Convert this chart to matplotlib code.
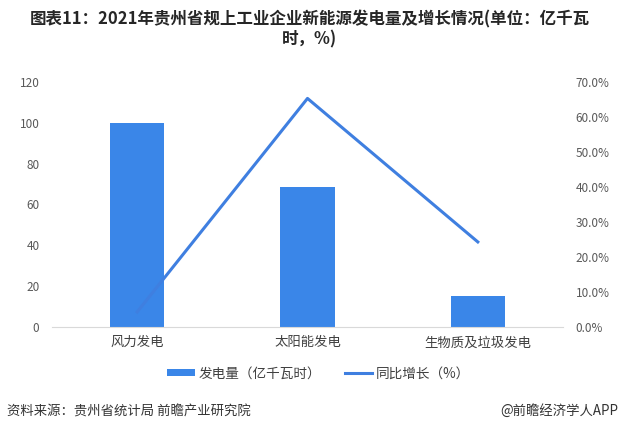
import matplotlib.pyplot as plt
from matplotlib.ticker import FuncFormatter

plt.rcParams['font.family'] = ['Noto Sans CJK SC', 'DejaVu Sans']

categories = ['风力发电', '太阳能发电', '生物质及垃圾发电']
power = [100, 68.6, 15.2]          # 发电量（亿千瓦时）
growth = [4.3, 65.3, 24.3]         # 同比增长（%）

bar_color = '#3a86e8'
line_color = '#3f7fe0'
tick_color = '#595959'

fig = plt.figure(figsize=(6.19, 4.36), dpi=100)
ax = fig.add_axes([0.084, 0.25, 0.8255, 0.562])
ax2 = ax.twinx()

x = list(range(len(categories)))
b = ax.bar(x, power, width=0.32, color=bar_color, label='发电量（亿千瓦时）', zorder=2)
l, = ax2.plot(x, growth, color=line_color, linewidth=2.2, label='同比增长（%）', zorder=3)

ax.set_xlim(-0.5, 2.5)
ax.set_ylim(0, 120)
ax.set_yticks(range(0, 121, 20))
ax2.set_ylim(0, 70)
ax2.set_yticks(range(0, 71, 10))
ax2.yaxis.set_major_formatter(FuncFormatter(lambda v, p: f'{v:.1f}%'))

ax.set_xticks(x)
ax.set_xticklabels(categories)

for a in (ax, ax2):
    for s in ('top', 'right', 'left'):
        a.spines[s].set_visible(False)
    a.tick_params(length=0, colors=tick_color, labelsize=8.5)
ax.spines['bottom'].set_color('#d9d9d9')
ax2.spines['bottom'].set_visible(False)
ax.tick_params(axis='y', pad=9)
ax2.tick_params(axis='y', pad=9)
ax.tick_params(axis='x', pad=6, labelsize=9.6)
ax.tick_params(axis='x', colors='#404040')

fig.legend([b, l], ['发电量（亿千瓦时）', '同比增长（%）'], loc='center',
           bbox_to_anchor=(0.515, 0.143), ncol=2, frameon=False, fontsize=9.8,
           handlelength=2.0, handleheight=0.45, columnspacing=1.8, handletextpad=0.25,
           labelcolor='#404040')

fig.text(0.5, 0.975, '图表11：2021年贵州省规上工业企业新能源发电量及增长情况(单位：亿千瓦\n时，%)',
         ha='center', va='top', fontsize=11.9, fontweight='bold', color='#262626',
         linespacing=1.1)
fig.text(0.011, 0.057, '资料来源：贵州省统计局 前瞻产业研究院', ha='left', va='center',
         fontsize=9.6, color='#333333')
fig.text(0.999, 0.057, '@前瞻经济学人APP', ha='right', va='center',
         fontsize=9.6, color='#333333')

plt.savefig('out.png', dpi=100)
